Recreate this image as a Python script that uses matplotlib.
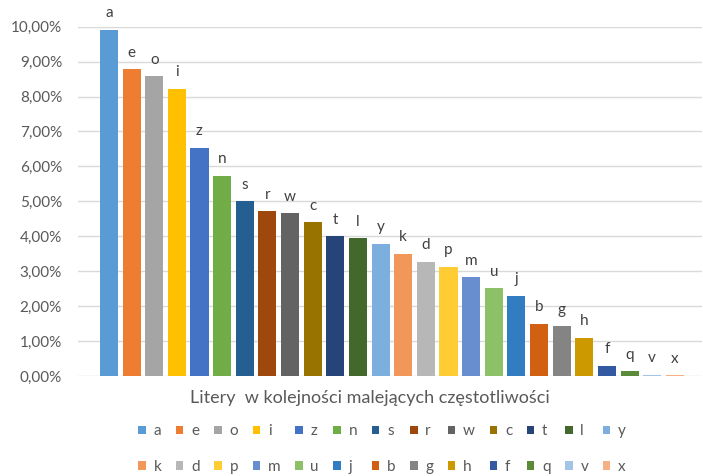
import matplotlib
matplotlib.use("Agg")
import matplotlib.pyplot as plt
from matplotlib.patches import Patch
from matplotlib.ticker import FuncFormatter

plt.rcParams['font.family'] = ['Lato', 'DejaVu Sans']

# Letters ordered by decreasing frequency and their shares (%)
letters = ['a', 'e', 'o', 'i', 'z', 'n', 's', 'r', 'w', 'c', 't', 'l', 'y',
           'k', 'd', 'p', 'm', 'u', 'j', 'b', 'g', 'h', 'f', 'q', 'v', 'x']
freq = [9.90, 8.78, 8.58, 8.22, 6.54, 5.73, 5.00, 4.71, 4.66, 4.40, 4.00, 3.94, 3.79,
        3.50, 3.27, 3.13, 2.82, 2.51, 2.29, 1.49, 1.42, 1.09, 0.29, 0.13, 0.03, 0.02]
colors = ['#5B9BD5', '#ED7D31', '#A5A5A5', '#FFC000', '#4472C4', '#70AD47',
          '#255E91', '#9E480E', '#636363', '#997300', '#264478', '#43682B',
          '#7CAFDD', '#F1975A', '#B7B7B7', '#FFCD33', '#698ED0', '#8CC168',
          '#327DC2', '#D26012', '#848484', '#CC9A00', '#335AA1', '#5A8B39',
          '#A3C4E6', '#F4B183']
yticks = [0, 1, 2, 3, 4, 5, 6, 7, 8, 9, 10]
xlabel = 'Litery  w kolejności malejących częstotliwości'

W, H = 703, 476
fig = plt.figure(figsize=(W / 100, H / 100), dpi=100)
ax = fig.add_axes([78 / W, 1 - 376 / H, (702 - 78) / W, (376 - 26.7) / H])

xs = list(range(len(letters)))
bars = ax.bar(xs, freq, width=0.8, color=colors, zorder=3)

for x, v, lab in zip(xs, freq, letters):
    ax.annotate(lab, (x, v), xytext=(0, 7), textcoords='offset points',
                ha='center', va='bottom', fontsize=11, color='#404040',
                annotation_clip=False)

ax.set_xlim(-1.37, 26.2)
ax.set_ylim(0, 10)
ax.set_yticks(yticks)
ax.yaxis.set_major_formatter(FuncFormatter(lambda v, p: f"{v:.2f}".replace('.', ',') + '%'))
ax.tick_params(axis='y', length=0, pad=11.5, labelsize=11, labelcolor='#595959')
ax.set_xticks([])
ax.grid(axis='y', color='#D9D9D9', linewidth=1, zorder=0)
for s in ax.spines.values():
    s.set_visible(False)

fig.text(370 / W, 1 - 398 / H, xlabel, ha='center', va='center',
         fontsize=13, color='#595959')

# Legend laid out row by row (13 per row); matplotlib fills columns first
handles = [Patch(facecolor=c, edgecolor='none') for c in colors]
order = []
for j in range(13):
    order += [j, j + 13]
leg = fig.legend([handles[i] for i in order], [letters[i] for i in order],
                 ncol=13, loc='center', bbox_to_anchor=(382 / W, 1 - 449 / H),
                 frameon=False, fontsize=11, handlelength=0.5, handleheight=0.5,
                 handletextpad=0.5, columnspacing=0.95, labelspacing=1.4,
                 labelcolor='#595959')

fig.savefig('out.png', dpi=100)
